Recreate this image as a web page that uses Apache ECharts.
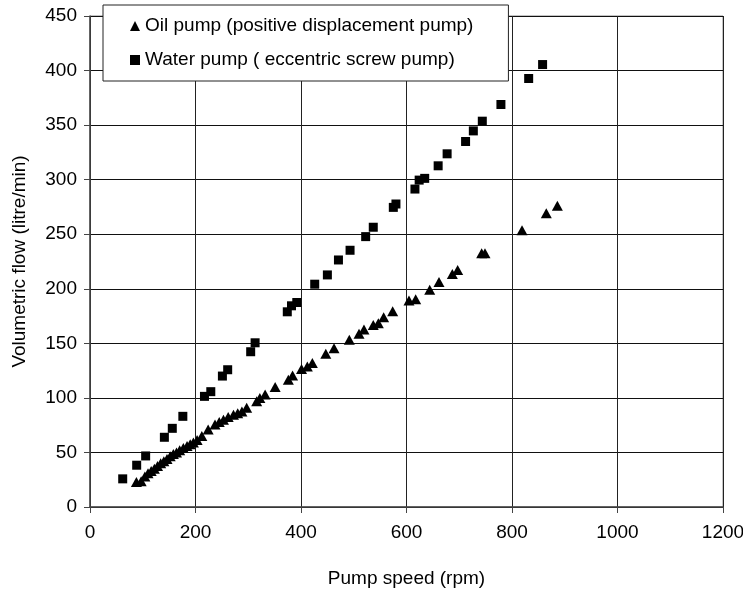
<!DOCTYPE html>
<html>
<head>
<meta charset="utf-8">
<script src="https://cdn.jsdelivr.net/npm/echarts@6/dist/echarts.min.js"></script>
<style>html,body{margin:0;padding:0;background:#fff}#c{width:743px;height:590px}</style>
</head>
<body>
<div id="c"></div>
<script>
const seriesNames = ['Oil pump (positive displacement pump)', 'Water pump ( eccentric screw pump)'];
const xTicks = { min: 0, max: 1200, interval: 200 };
const yTicks = { min: 0, max: 450, interval: 50 };
const oilPump = [
  [88,23],[97,23.5],[104,28],[110,31],[116,33],[122,35],[128,37.5],[134,40],[140,42],[146,44],
  [152,46.5],[158,48.5],[164,50],[170,52],[177,54],[184,56],[190,57.5],[196,59],[203,61.5],[212,65],
  [224,71],[237,75.5],[245,78],[253,80],[262,82.5],[272,84.5],[280,86],[288,87.5],[297,91],[316,97],
  [322,100],[332,103],[351,110],[376,116.6],[384,120.6],[401,126.4],[412,128.8],[421.5,131.9],[447,140.4],[462.6,145.6],
  [491.6,153.2],[510,158.7],[519.4,162.7],[537,166.7],[546.6,168.5],[556.7,174],[573.8,179.5],[604.7,189.2],[617.4,190.5],[644,199],
  [661.6,206.3],[686.9,213.6],[697,217.3],[742.5,232.6],[748.8,232.6],[819,253.6],[865,269.2],[886,276.1]
];
const waterPump = [
  [62,25.8],[88.5,38.3],[105.5,46.8],[141,63.9],[156,72.1],[176,83.1],[217,101.4],[229,105.7],[251,120],[261,125.8],
  [304.6,142.3],[313,150.5],[374,178.9],[382,184.4],[392,187.4],[426,204.2],[450,212.7],[471,226.4],[493,235.3],[522.6,247.8],
  [537,256.4],[575,274.6],[580,277.7],[616,291.4],[624,299.6],[634.5,301.2],[660,312.7],[677,323.7],[712,335],[726.7,344.7],
  [743.7,353.6],[779,368.9],[831.6,392.7],[858,405.5]
];
const xName = 'Pump speed (rpm)';
const yName = 'Volumetric flow (litre/min)';

const FONT = '"Liberation Sans", Arial, sans-serif';
const FS = 19;
const chart = echarts.init(document.getElementById('c'), null, { renderer: 'canvas' });
chart.setOption({
  animation: false,
  backgroundColor: '#fff',
  grid: { left: 90, right: 20, top: 16, bottom: 83, containLabel: false, outerBoundsMode: 'none',
          show: true, borderColor: '#888', borderWidth: 1 },
  legend: {
    orient: 'vertical', left: 103, top: 5,
    padding: [10, 35, 10, 27], itemGap: 12,
    itemWidth: 10, itemHeight: 10,
    backgroundColor: '#fff', borderColor: '#222', borderWidth: 1,
    textStyle: { fontFamily: FONT, fontSize: FS, lineHeight: 22, color: '#000' },
    data: seriesNames
  },
  xAxis: {
    type: 'value', min: xTicks.min, max: xTicks.max, interval: xTicks.interval,
    name: xName, nameLocation: 'middle', nameGap: 62,
    nameTextStyle: { fontFamily: FONT, fontSize: FS, color: '#000' },
    axisLine: { show: true, onZero: false, lineStyle: { color: '#444', width: 1.5 } },
    axisTick: { show: true, inside: false, length: 6, lineStyle: { color: '#444' } },
    axisLabel: { fontFamily: FONT, fontSize: FS, color: '#000', margin: 16, formatter: v => String(v) },
    splitLine: { show: true, lineStyle: { color: '#222', width: 1 } }
  },
  yAxis: {
    type: 'value', min: yTicks.min, max: yTicks.max, interval: yTicks.interval,
    name: yName, nameLocation: 'middle', nameGap: 61, nameRotate: 90,
    nameTextStyle: { fontFamily: FONT, fontSize: FS, color: '#000' },
    axisLine: { show: true, onZero: false, lineStyle: { color: '#444', width: 1.5 } },
    axisTick: { show: true, inside: false, length: 6, lineStyle: { color: '#444' } },
    axisLabel: { fontFamily: FONT, fontSize: FS, color: '#000', margin: 13, formatter: v => String(v) },
    splitLine: { show: true, lineStyle: { color: '#111', width: 1 } }
  },
  series: [
    { name: seriesNames[0], type: 'scatter', symbol: 'triangle', symbolSize: [11, 10],
      itemStyle: { color: '#000', opacity: 1 }, data: oilPump },
    { name: seriesNames[1], type: 'scatter', symbol: 'rect', symbolSize: 9,
      itemStyle: { color: '#000', opacity: 1 }, data: waterPump }
  ]
});
</script>
</body>
</html>
